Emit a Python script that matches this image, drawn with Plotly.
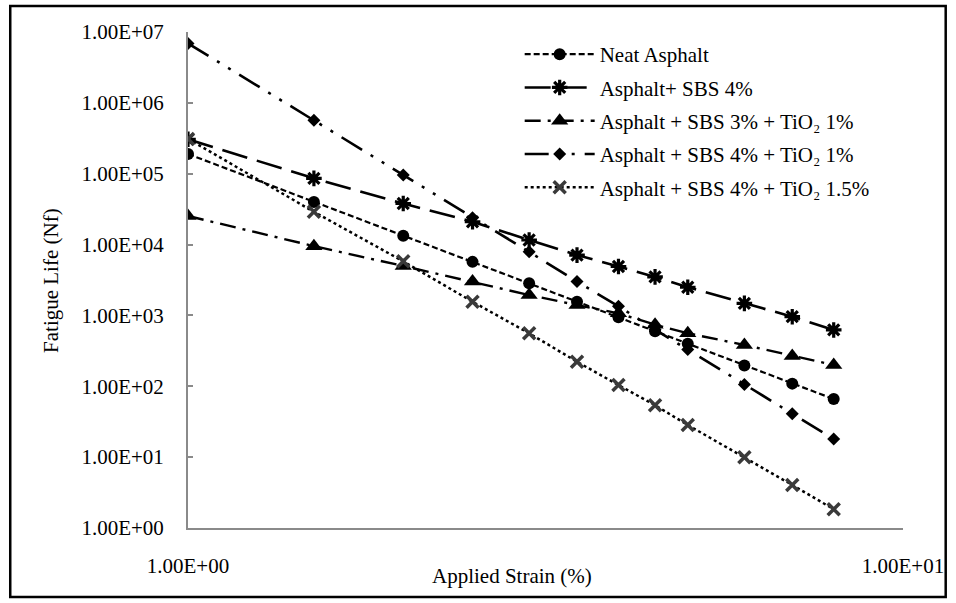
import plotly.graph_objects as go

strain = [1, 1.5, 2, 2.5, 3, 3.5, 4, 4.5, 5, 6, 7, 8]

neat = [1.9e5, 4.0e4, 1.33e4, 5.7e3, 2.84e3, 1.56e3, 9.4e2, 6.0e2, 4.0e2, 1.97e2, 1.09e2, 6.6e1]
sbs4 = [3.06e5, 8.6e4, 3.8e4, 2.1e4, 1.16e4, 7.1e3, 4.9e3, 3.5e3, 2.5e3, 1.48e3, 9.6e2, 6.24e2]
sbs3_tio1 = [2.53e4, 9.5e3, 4.99e3, 3.0e3, 1.94e3, 1.4e3, 1.07e3, 7.4e2, 5.6e2, 3.83e2, 2.68e2, 2.0e2]
sbs4_tio1 = [6.9e6, 5.7e5, 9.6e4, 2.4e4, 7.9e3, 3.0e3, 1.35e3, 6.3e2, 3.3e2, 1.06e2, 4.1e1, 1.8e1]
sbs4_tio15 = [3.1e5, 2.9e4, 5.8e3, 1.56e3, 5.6e2, 2.22e2, 1.04e2, 5.4e1, 2.84e1, 1.0e1, 4.05, 1.84]

names = [
    "Neat Asphalt",
    "Asphalt+ SBS 4%",
    "Asphalt + SBS 3% + TiO₂ 1%",
    "Asphalt + SBS 4% + TiO₂ 1%",
    "Asphalt + SBS 4% + TiO₂ 1.5%",
]

y_tickvals = [1, 10, 100, 1e3, 1e4, 1e5, 1e6, 1e7]
y_ticktext = ["1.00E+00", "1.00E+01", "1.00E+02", "1.00E+03", "1.00E+04", "1.00E+05", "1.00E+06", "1.00E+07"]
x_tickvals = [1, 10]
x_ticktext = ["1.00E+00", "1.00E+01"]

x_title = "Applied Strain (%)"
y_title = "Fatigue Life (Nf)"

FONT = "Liberation Serif"
FS = 21
AXIS_GREY = "#8a8a8a"

series = [
    (neat, dict(color="black", width=2.2, dash="6px,3px"),
     dict(symbol="circle", size=12, color="black")),
    (sbs4, dict(color="black", width=2.6, dash="26px,10px"),
     dict(symbol="asterisk-open", size=13, color="black", line=dict(color="black", width=3.2))),
    (sbs3_tio1, dict(color="black", width=2.4, dash="16px,7px,3px,7px"),
     dict(symbol="triangle-up", size=15, color="black")),
    (sbs4_tio1, dict(color="black", width=2.6, dash="24px,10px,3px,10px,3px,10px"),
     dict(symbol="diamond", size=10, color="black")),
    (sbs4_tio15, dict(color="black", width=2.5, dash="dot"),
     dict(symbol="x-thin-open", size=12, color="#3a3a3a", line=dict(color="#3a3a3a", width=3.5))),
]

fig = go.Figure()
for i, ((vals, line, marker), name) in enumerate(zip(series, names)):
    fig.add_trace(go.Scatter(
        x=strain, y=vals, name=name, mode="lines+markers",
        line=line, marker=marker, legendgroup=f"g{i}",
    ))

W, H = 956, 603
L, R, T, B = 188, 48, 32, 75
pw, ph = W - L - R, H - T - B

def px_x(p):
    return (p - L) / pw

def px_y(p):
    return (H - B - p) / ph

fig.update_layout(
    width=W, height=H, autosize=False,
    margin=dict(l=L, r=R, t=T, b=B),
    paper_bgcolor="white", plot_bgcolor="white",
    font=dict(family=FONT, size=FS, color="black"),
    showlegend=True,
    legend=dict(
        x=px_x(522), y=px_y(34), xanchor="left", yanchor="top",
        bgcolor="rgba(0,0,0,0)", borderwidth=0,
        font=dict(family=FONT, size=FS, color="black"),
        itemwidth=70, traceorder="grouped", tracegroupgap=3,
    ),
    xaxis=dict(
        type="log", range=[0, 1],
        tickvals=x_tickvals, ticktext=x_ticktext,
        ticks="inside", ticklen=5, tickcolor=AXIS_GREY, tickwidth=1.5,
        showline=True, linecolor=AXIS_GREY, linewidth=2,
        showgrid=False, zeroline=False,
        ticklabelstandoff=18,
        tickfont=dict(family=FONT, size=FS, color="black"),
    ),
    yaxis=dict(
        type="log", range=[0, 7],
        tickvals=y_tickvals, ticktext=y_ticktext,
        ticks="inside", ticklen=5, tickcolor=AXIS_GREY, tickwidth=1.5,
        showline=True, linecolor=AXIS_GREY, linewidth=2,
        showgrid=False, zeroline=False,
        ticklabelstandoff=18,
        tickfont=dict(family=FONT, size=FS, color="black"),
    ),
    annotations=[
        dict(text=x_title, xref="paper", yref="paper", x=px_x(514), y=px_y(576),
             xanchor="center", yanchor="middle", showarrow=False,
             font=dict(family=FONT, size=FS, color="black")),
        dict(text=y_title, xref="paper", yref="paper", x=px_x(50), y=0.5,
             xanchor="center", yanchor="middle", showarrow=False, textangle=-90,
             font=dict(family=FONT, size=FS, color="black")),
    ],
    shapes=[
        dict(type="rect", xref="paper", yref="paper",
             x0=px_x(9), x1=px_x(951), y0=px_y(597), y1=px_y(6),
             line=dict(color="black", width=2.5), fillcolor="rgba(0,0,0,0)", layer="below"),
    ],
)

fig.write_html("out.html")
